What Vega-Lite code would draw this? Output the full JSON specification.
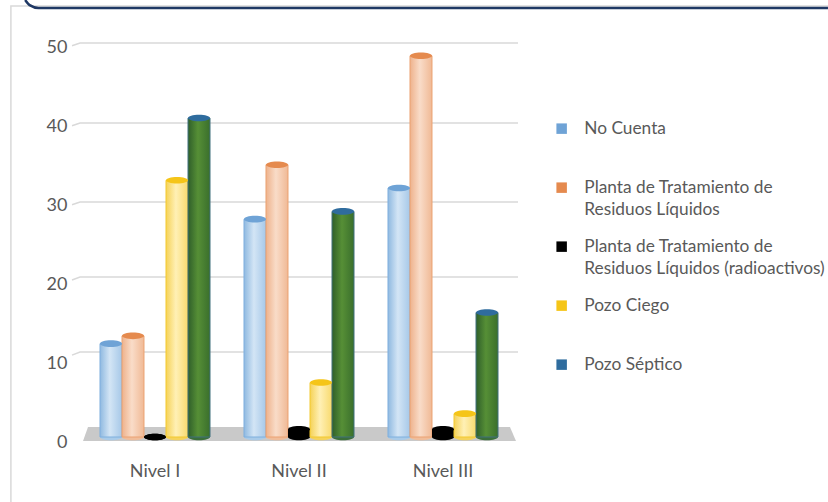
{"$schema":"https://vega.github.io/schema/vega-lite/v6.json","width":828,"height":502,"autosize":"none","padding":0,"background":"white","config":{"view":{"stroke":null},"font":"Lato"},
"datasets":{"bars":[
{"nivel":"Nivel I","serie":"No Cuenta","valor":12},{"nivel":"Nivel I","serie":"Planta de Tratamiento de Residuos Líquidos","valor":13},{"nivel":"Nivel I","serie":"Planta de Tratamiento de Residuos Líquidos (radioactivos)","valor":0},{"nivel":"Nivel I","serie":"Pozo Ciego","valor":33},{"nivel":"Nivel I","serie":"Pozo Séptico","valor":41},
{"nivel":"Nivel II","serie":"No Cuenta","valor":28},{"nivel":"Nivel II","serie":"Planta de Tratamiento de Residuos Líquidos","valor":35},{"nivel":"Nivel II","serie":"Planta de Tratamiento de Residuos Líquidos (radioactivos)","valor":1},{"nivel":"Nivel II","serie":"Pozo Ciego","valor":7},{"nivel":"Nivel II","serie":"Pozo Séptico","valor":29},
{"nivel":"Nivel III","serie":"No Cuenta","valor":32},{"nivel":"Nivel III","serie":"Planta de Tratamiento de Residuos Líquidos","valor":49},{"nivel":"Nivel III","serie":"Planta de Tratamiento de Residuos Líquidos (radioactivos)","valor":1},{"nivel":"Nivel III","serie":"Pozo Ciego","valor":3},{"nivel":"Nivel III","serie":"Pozo Séptico","valor":16}],
"grid":[{"g":"50","u":0,"v":50.15},{"g":"50","u":0.018,"v":50.5},{"g":"50","u":1,"v":50.5},{"g":"40","u":0,"v":40.03},{"g":"40","u":0.018,"v":40.38},{"g":"40","u":1,"v":40.38},{"g":"30","u":0,"v":30.03},{"g":"30","u":0.018,"v":30.38},{"g":"30","u":1,"v":30.38},{"g":"20","u":0,"v":20.5},{"g":"20","u":0.018,"v":20.89},{"g":"20","u":1,"v":20.89},{"g":"10","u":0,"v":11},{"g":"10","u":0.018,"v":11.39},{"g":"10","u":1,"v":11.39}],
"floor":[{"u":0.0247,"a":0.13,"b":0.13},{"u":0.0359,"a":1.9,"b":0.13},{"u":0.982,"a":1.9,"b":0.13},{"u":0.9955,"a":0.13,"b":0.13}],
"frame":[{"u":-0.137,"v":-7.6},{"u":-0.137,"v":55.19},{"u":1.695,"v":55.19}],
"curve":[{"u":-0.105,"v":55.95},{"u":-0.095,"v":55.3},{"u":-0.075,"v":54.94},{"u":1.695,"v":54.94}]},
"resolve":{"scale":{"x":"independent","y":"independent"}},
"layer":[
{"data":{"name":"frame"},"mark":{"type":"line","color":"#d9d9d9","strokeWidth":1.5},"encoding":{"x":{"field":"u","type":"quantitative","sort":null,"scale":{"domain":[0,1],"range":[72,518]},"axis":null},"y":{"field":"v","type":"quantitative","scale":{"domain":[0,50],"range":[442,47],"nice":false},"axis":null},"order":{"field":"u"}}},
{"data":{"name":"curve"},"mark":{"type":"line","color":"#1f3864","strokeWidth":2.5,"interpolate":"monotone"},"encoding":{"x":{"field":"u","type":"quantitative","scale":{"domain":[0,1],"range":[72,518]},"axis":null},"y":{"field":"v","type":"quantitative","scale":{"domain":[0,50],"range":[442,47],"nice":false},"axis":null}}},
{"data":{"name":"grid"},"mark":{"type":"line","color":"#d9d9d9","strokeWidth":1.5},"encoding":{"x":{"field":"u","type":"quantitative","scale":{"domain":[0,1],"range":[72,518]},"axis":null},"y":{"field":"v","type":"quantitative","title":null,"scale":{"domain":[0,50],"range":[442,47],"nice":false},"axis":{"orient":"left","offset":-72,"values":[0,10,20,30,40,50],"domain":false,"ticks":false,"grid":false,"labelFontSize":18,"labelColor":"#595959","labelPadding":5}},"detail":{"field":"g"}}},
{"data":{"name":"floor"},"mark":{"type":"area","color":"#c9c9c9"},"encoding":{"x":{"field":"u","type":"quantitative","scale":{"domain":[0,1],"range":[72,518]},"axis":null},"y":{"field":"a","type":"quantitative","scale":{"domain":[0,50],"range":[442,47],"nice":false},"axis":null},"y2":{"field":"b"}}},
{"data":{"name":"bars"},
"encoding":{
"x":{"field":"nivel","type":"nominal","title":null,"scale":{"range":[83,515],"paddingInner":0.236,"paddingOuter":0.118},"axis":{"orient":"bottom","offset":-40,"domain":false,"ticks":false,"labelAngle":0,"labelFontSize":18,"labelColor":"#595959","labelPadding":0,"labelFont":"Lato"}},
"xOffset":{"field":"serie","type":"nominal","scale":{"domain":["No Cuenta","Planta de Tratamiento de Residuos Líquidos","Planta de Tratamiento de Residuos Líquidos (radioactivos)","Pozo Ciego","Pozo Séptico"],"paddingInner":0,"paddingOuter":0}},
"y":{"field":"valor","type":"quantitative","title":null,"scale":{"domain":[0,50],"range":[437,48],"nice":false},"axis":null}},
"layer":[
{"transform":[{"filter":"datum.serie==='No Cuenta'"}],"layer":[
{"mark":{"type":"point","filled":true,"opacity":1,"size":484,"shape":"M-1,0A1,0.3,0,1,0,1,0A1,0.3,0,1,0,-1,0Z","color":"#a9cbe9"},"encoding":{"y":{"datum":0,"type":"quantitative"}}},
{"mark":{"type":"bar","stroke":"#7fb0de","strokeWidth":1,"fill":{"gradient":"linear","x1":0,"x2":1,"y1":0,"y2":0,"stops":[{"offset":0,"color":"#8fb9e0"},{"offset":0.45,"color":"#d3e5f5"},{"offset":1,"color":"#a6c8e8"}]}}}]},
{"transform":[{"filter":"datum.serie==='Planta de Tratamiento de Residuos Líquidos'"}],"layer":[
{"mark":{"type":"point","filled":true,"opacity":1,"size":484,"shape":"M-1,0A1,0.3,0,1,0,1,0A1,0.3,0,1,0,-1,0Z","color":"#f0bd9a"},"encoding":{"y":{"datum":0,"type":"quantitative"}}},
{"mark":{"type":"bar","stroke":"#eba272","strokeWidth":1,"fill":{"gradient":"linear","x1":0,"x2":1,"y1":0,"y2":0,"stops":[{"offset":0,"color":"#eeb28c"},{"offset":0.45,"color":"#f9dcc8"},{"offset":1,"color":"#f0b995"}]}}}]},
{"transform":[{"filter":"datum.serie==='Planta de Tratamiento de Residuos Líquidos (radioactivos)'"}],"layer":[
{"mark":{"type":"point","filled":true,"opacity":1,"size":484,"shape":"M-1,0A1,0.3,0,1,0,1,0A1,0.3,0,1,0,-1,0Z","color":"#000000"},"encoding":{"y":{"datum":0,"type":"quantitative"}}},
{"mark":{"type":"bar","color":"#000000"}}]},
{"transform":[{"filter":"datum.serie==='Pozo Ciego'"}],"layer":[
{"mark":{"type":"point","filled":true,"opacity":1,"size":484,"shape":"M-1,0A1,0.3,0,1,0,1,0A1,0.3,0,1,0,-1,0Z","color":"#f5d35c"},"encoding":{"y":{"datum":0,"type":"quantitative"}}},
{"mark":{"type":"bar","stroke":"#f3c92f","strokeWidth":1,"fill":{"gradient":"linear","x1":0,"x2":1,"y1":0,"y2":0,"stops":[{"offset":0,"color":"#f5d257"},{"offset":0.45,"color":"#fff0b5"},{"offset":1,"color":"#f8da6e"}]}}}]},
{"transform":[{"filter":"datum.serie==='Pozo Séptico'"}],"layer":[
{"mark":{"type":"point","filled":true,"opacity":1,"size":484,"shape":"M-1,0A1,0.3,0,1,0,1,0A1,0.3,0,1,0,-1,0Z","color":"#3b6f3a"},"encoding":{"y":{"datum":0,"type":"quantitative"}}},
{"mark":{"type":"bar","stroke":"#40707f","strokeWidth":1,"fill":{"gradient":"linear","x1":0,"x2":1,"y1":0,"y2":0,"stops":[{"offset":0,"color":"#2f5f2a"},{"offset":0.45,"color":"#568f36"},{"offset":1,"color":"#3a6f2c"}]}}}]},
{"mark":{"type":"point","filled":true,"opacity":1,"size":484,"shape":"M-1,0A1,0.3,0,1,0,1,0A1,0.3,0,1,0,-1,0Z"},"encoding":{"color":{"field":"serie","type":"nominal","title":null,"scale":{"domain":["No Cuenta","Planta de Tratamiento de Residuos Líquidos","Planta de Tratamiento de Residuos Líquidos (radioactivos)","Pozo Ciego","Pozo Séptico"],"range":["#6fa3d6","#e58a4e","#000000","#f5c518","#2f6c9e"]},"legend":{"orient":"none","legendX":553,"legendY":120,"symbolType":"square","symbolSize":110,"symbolOpacity":1,"labelFontSize":17.3,"labelColor":"#595959","labelFont":"Lato","labelLimit":270,"rowPadding":19,"gridAlign":"all","labelOffset":14,"encoding":{"labels":{"lineHeight":{"value":22}}},"labelExpr":"datum.label==='Planta de Tratamiento de Residuos Líquidos'?['Planta de Tratamiento de','Residuos Líquidos']:datum.label==='Planta de Tratamiento de Residuos Líquidos (radioactivos)'?['Planta de Tratamiento de','Residuos Líquidos (radioactivos)']:datum.label"}}}}
]}
]}
